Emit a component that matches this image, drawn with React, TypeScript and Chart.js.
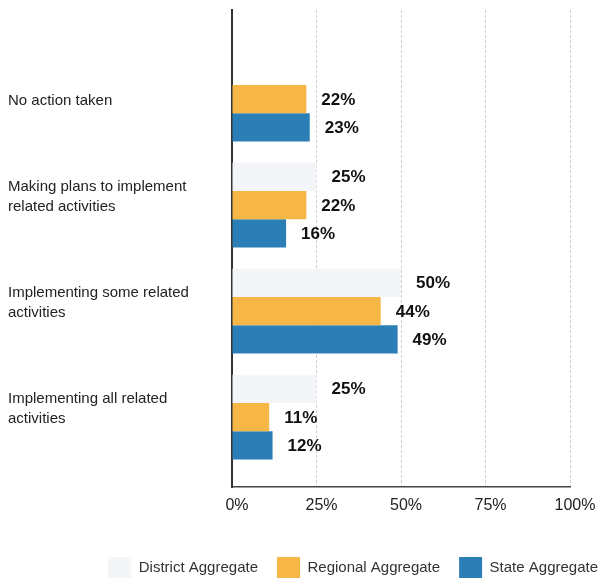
import React, { useEffect, useRef } from "react";
import { Chart, registerables } from "chart.js";

Chart.register(...registerables);

const categories: string[][] = [
  ["No action taken"],
  ["Making plans to implement", "related activities", ""],
  ["Implementing some related", "activities", ""],
  ["Implementing all related", "activities", ""],
];
const seriesNames = ["District Aggregate", "Regional Aggregate", "State Aggregate"];
const districtValues: (number | null)[] = [null, 25, 50, 25];
const regionalValues: (number | null)[] = [22, 22, 44, 11];
const stateValues: (number | null)[] = [23, 16, 49, 12];
const seriesColors = ["#F3F5F8", "#F6B746", "#2B7FB6"];
const xTicks = [0, 25, 50, 75, 100];

const FONT = "'Liberation Sans', Arial, sans-serif";

const valueLabels = {
  id: "valueLabels",
  afterDatasetsDraw(chart: any) {
    const ctx = chart.ctx;
    ctx.save();
    ctx.font = `bold 17px ${FONT}`;
    ctx.fillStyle = "#111";
    ctx.textAlign = "left";
    ctx.textBaseline = "middle";
    chart.data.datasets.forEach((ds: any, di: number) => {
      const meta = chart.getDatasetMeta(di);
      meta.data.forEach((bar: any, i: number) => {
        const v = ds.data[i].x;
        if (v === null || v === undefined) return;
        ctx.fillText(`${v}%`, bar.x + 15, bar.y + 1);
      });
    });
    ctx.restore();
  },
};

const legendShift = {
  id: "legendShift",
  afterLayout(chart: any) {
    const lg = chart.legend;
    if (!lg) return;
    lg.left += 17;
    lg.right += 17;
    lg.top += 7;
    lg.bottom += 7;
  },
};

export default function App() {
  const ref = useRef<HTMLCanvasElement | null>(null);
  useEffect(() => {
    if (!ref.current) return;
    const toPoints = (vals: (number | null)[]) => vals.map((v, i) => ({ x: v, y: i }));
    const allSeries = [districtValues, regionalValues, stateValues];
    const chart = new Chart(ref.current, {
      type: "bar",
      data: {
        datasets: allSeries.map((vals, k) => ({
          label: seriesNames[k],
          data: toPoints(vals) as any,
          backgroundColor: seriesColors[k],
          borderWidth: 0,
          categoryPercentage: 0.8,
          barPercentage: 1.0,
        })),
      },
      options: {
        indexAxis: "y",
        responsive: false,
        animation: false,
        layout: { padding: { top: 10, left: 8, right: 0, bottom: 0 } },
        scales: {
          x: {
            type: "linear",
            min: 0,
            max: 100,
            afterBuildTicks: (scale: any) => {
              scale.ticks = xTicks.map((v) => ({ value: v }));
            },
            afterFit: (scale: any) => {
              scale.height = 44;
              scale.paddingRight = 30;
            },
            ticks: {
              callback: (v: any) => `${v}%`,
              font: { family: FONT, size: 16 },
              color: "#222",
              padding: 9,
              labelOffset: 5,
              maxRotation: 0,
            },
            grid: { color: "#cfcfcf", lineWidth: 1, drawTicks: false },
            border: { display: true, color: "#444", width: 1.5, dash: [3, 2] },
          },
          y: {
            type: "linear",
            reverse: true,
            offset: false,
            min: -0.84,
            max: 3.66,
            afterBuildTicks: (scale: any) => {
              scale.ticks = categories.map((_, i) => ({ value: i }));
            },
            afterFit: (scale: any) => {
              scale.width = 224;
              scale.paddingTop = 0;
              scale.paddingBottom = 0;
            },
            ticks: {
              callback: (v: any) => categories[v] ?? "",
              crossAlign: "far",
              font: { family: FONT, size: 15, lineHeight: 1.33 },
              color: "#222",
              autoSkip: false,
              labelOffset: 2,
            },
            grid: { display: false, drawTicks: false, offset: false },
            border: { display: true, color: "#333", width: 2 },
          },
        },
        plugins: {
          legend: {
            position: "bottom",
            align: "end",
            labels: {
              boxWidth: 23,
              boxHeight: 21,
              padding: 19,
              color: "#333",
              font: { family: FONT, size: 15 },
            },
          },
          tooltip: { enabled: false },
        },
      },
      plugins: [valueLabels, legendShift],
    });
    return () => chart.destroy();
  }, []);
  return (
    <div style={{ position: "fixed", left: 0, top: 0, width: 600, height: 581, background: "#fff" }}>
      <canvas ref={ref} width={600} height={581} style={{ display: "block" }} />
    </div>
  );
}
